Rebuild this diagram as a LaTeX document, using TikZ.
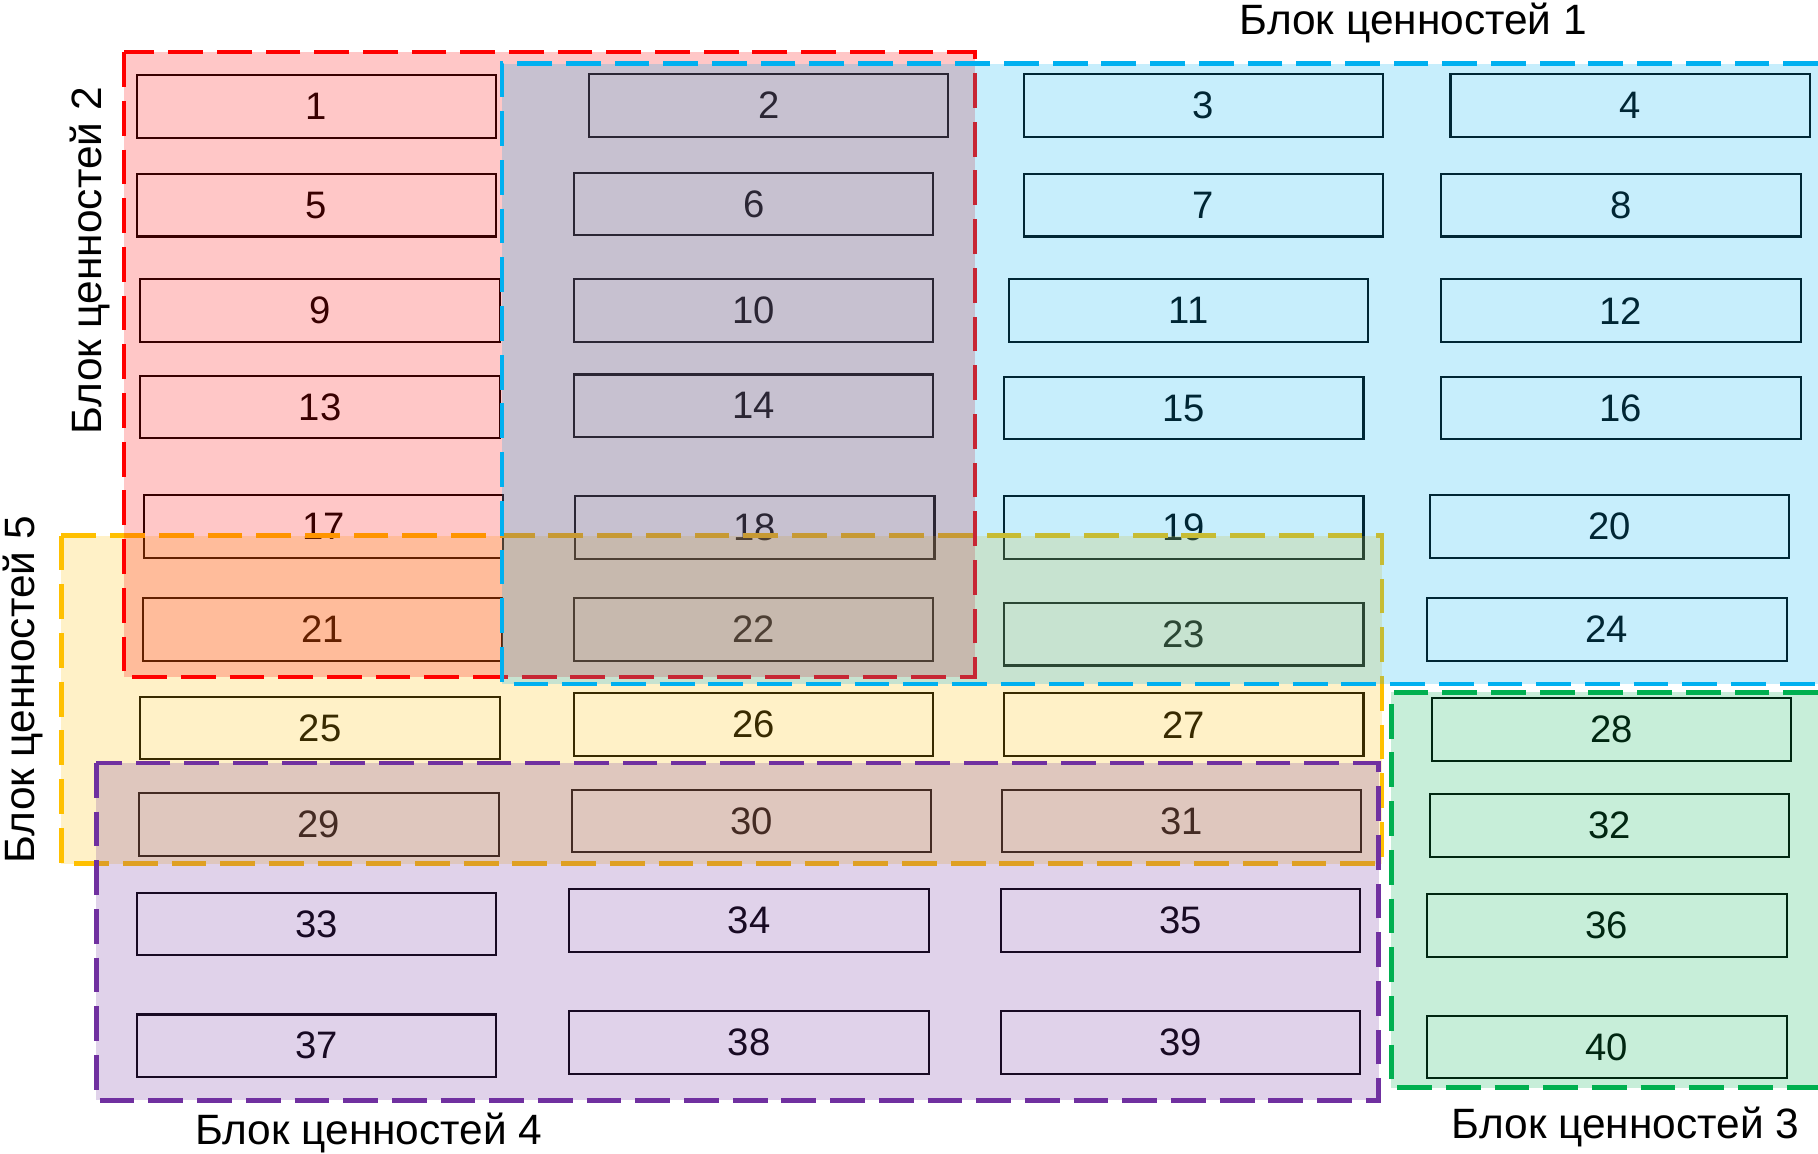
\documentclass[tikz,border=0pt]{standalone}
\usepackage{fontspec}
\setmainfont{Liberation Sans}
\usepackage{tikz}
\usetikzlibrary{calc}

\definecolor{vred}{HTML}{FF0000}
\definecolor{vblue}{HTML}{00B0F0}
\definecolor{vyellow}{HTML}{FFC000}
\definecolor{vpurple}{HTML}{7030A0}
\definecolor{vgreen}{HTML}{00B050}

\begin{document}
\begin{tikzpicture}[x=0.5pt,y=-0.5pt,
  cell/.style={draw=black,line width=0.9pt,minimum width=155pt,minimum height=27pt,inner sep=0pt,font=\fontsize{16.5}{19}\selectfont},
  blk/.style={fill=#1,fill opacity=0.22,draw=#1,line width=2pt,dash pattern=on 15pt off 6pt},
  blkline/.style={draw=#1,line width=2pt,dash pattern=on 15pt off 6pt},
  lbl/.style={font=\fontsize{18.3}{22}\selectfont,inner sep=0pt}]
\useasboundingbox (0,0) rectangle (1568,995);
% value cells
\foreach \n/\x/\y in {1/273/92, 2/663/91, 3/1038/91, 4/1406/91,
  5/273/177, 6/650/176, 7/1038/177, 8/1398/177,
  9/276/268, 10/650/268, 11/1025/268, 12/1398/268,
  13/276/351, 14/650/350, 15/1021/352, 16/1398/352,
  17/279/454, 18/651/455, 19/1021/455, 20/1388/454,
  21/278/543, 22/650/543, 23/1021/547, 24/1386/543,
  25/276/628, 26/650/625, 27/1021/625, 28/1390/629,
  29/275/711, 30/648/708, 31/1019/708, 32/1388/712,
  33/273/797, 34/646/794, 35/1018/794, 36/1386/798,
  37/273/902, 38/646/899, 39/1018/899, 40/1386/903}
  \node[cell] (b\n) at (\x,\y) {\n};
% blocks
\draw[blk=vyellow] (53,462) rectangle (1192,745);
\draw[blk=vpurple] (83,658) rectangle (1189,949);
\draw[blk=vred] (107,45) rectangle (841,584);
\fill[vblue,fill opacity=0.22] (433,55) rectangle (1568,590);
\draw[blkline=vblue] (1568,55) -- (433,55) -- (433,590) -- (1568,590);
\fill[vgreen,fill opacity=0.22] (1200,597) rectangle (1568,938);
\draw[blkline=vgreen] (1568,597) -- (1200,597) -- (1200,938) -- (1568,938);
% block names
\node[lbl] (n1) at (1219,20) {Блок ценностей 1};
\node[lbl,rotate=90] (n2) at (78,225) {Блок ценностей 2};
\node[lbl] (n3) at (1402,972) {Блок ценностей 3};
\node[lbl] (n4) at (318,977) {Блок ценностей 4};
\node[lbl,rotate=90] (n5) at (20,595) {Блок ценностей 5};
\end{tikzpicture}
\end{document}
